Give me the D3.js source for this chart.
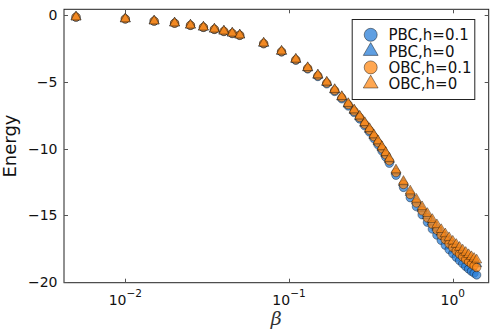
<!DOCTYPE html>
<html>
<head>
<meta charset="utf-8">
<script src="https://cdn.jsdelivr.net/npm/d3@7"></script>
<style>
  body { margin: 0; background: #fff; }
  text { font-family: "DejaVu Sans", sans-serif; }
</style>
</head>
<body>
<div id="chart"></div>
<script>
// beta grid
const betas = [0.005, 0.01, 0.015, 0.02, 0.025, 0.03, 0.035, 0.04, 0.045, 0.05,
    0.07, 0.09, 0.11, 0.13, 0.15, 0.17, 0.19, 0.21, 0.23, 0.25, 0.27, 0.29, 0.31, 0.33, 0.35, 0.37, 0.39, 0.41,
    0.45, 0.5, 0.55, 0.6, 0.65, 0.7, 0.75, 0.8, 0.85, 0.9, 0.95, 1.0, 1.05, 1.1, 1.15, 1.2, 1.25, 1.3, 1.35, 1.4]

const pbcH01 = [-0.15, -0.29, -0.45, -0.61, -0.77, -0.92, -1.07, -1.23, -1.38, -1.52,
    -2.15, -2.76, -3.38, -4.03, -4.60, -5.15, -5.72, -6.27, -6.81, -7.30, -7.78, -8.29, -8.76, -9.25, -9.72, -10.18, -10.64, -11.10,
    -12.00, -12.91, -13.68, -14.35, -14.96, -15.52, -16.03, -16.48, -16.88, -17.24, -17.57, -17.87, -18.14, -18.39, -18.62, -18.83, -19.02, -19.19, -19.33, -19.47]

const pbcH0 = [-0.14, -0.28, -0.44, -0.59, -0.75, -0.90, -1.05, -1.20, -1.35, -1.49,
    -2.11, -2.72, -3.32, -3.96, -4.51, -5.05, -5.61, -6.14, -6.67, -7.15, -7.62, -8.11, -8.57, -9.04, -9.50, -9.94, -10.39, -10.83,
    -11.70, -12.57, -13.30, -13.94, -14.51, -15.03, -15.49, -15.90, -16.27, -16.60, -16.90, -17.17, -17.42, -17.65, -17.85, -18.04, -18.21, -18.37, -18.50, -18.63]

const obcH01 = [-0.14, -0.28, -0.44, -0.60, -0.76, -0.91, -1.06, -1.21, -1.36, -1.50,
    -2.12, -2.73, -3.34, -3.98, -4.54, -5.08, -5.64, -6.18, -6.71, -7.20, -7.67, -8.17, -8.63, -9.11, -9.57, -10.02, -10.47, -10.92,
    -11.80, -12.69, -13.44, -14.08, -14.67, -15.20, -15.68, -16.11, -16.49, -16.83, -17.14, -17.42, -17.68, -17.91, -18.12, -18.31, -18.49, -18.65, -18.78, -18.91]

const obcH0 = [-0.14, -0.28, -0.44, -0.59, -0.75, -0.90, -1.05, -1.20, -1.35, -1.49,
    -2.10, -2.70, -3.30, -3.93, -4.48, -5.02, -5.57, -6.10, -6.62, -7.10, -7.56, -8.05, -8.50, -8.97, -9.42, -9.86, -10.30, -10.74,
    -11.60, -12.46, -13.18, -13.80, -14.36, -14.86, -15.31, -15.71, -16.07, -16.39, -16.68, -16.94, -17.18, -17.40, -17.60, -17.78, -17.95, -18.10, -18.23, -18.35]

const seriesNames = ["PBC,h=0.1", "PBC,h=0", "OBC,h=0.1", "OBC,h=0"]
const seriesValues = [pbcH01, pbcH0, obcH01, obcH0]
const seriesColors = ["#2a7fd8", "#2a7fd8", "#ff8a17", "#ff8a17"]
const seriesShapes = ["circle", "triangle", "circle", "triangle"]

const yTicks = [0, -5, -10, -15, -20]
const xTicks = [0.01, 0.1, 1]
const xTickExp = ["\u22122", "\u22121", "0"]

const W = 498, H = 332
const margin = { top: 9.3, right: 9.3, bottom: 49.3, left: 64 }
const width = W - margin.left - margin.right
const height = H - margin.top - margin.bottom

const svg = d3.select('#chart').append('svg')
    .attr('width', W)
    .attr('height', H)

// widen limits by 3% like the original
const lx = d3.extent(betas).map(Math.log10)
const padX = (lx[1] - lx[0]) * 0.03
const x = d3.scaleLog()
    .domain([Math.pow(10, lx[0] - padX), Math.pow(10, lx[1] + padX)])
    .range([margin.left, margin.left + width])

const allY = seriesValues.flat()
const ly = d3.extent(allY)
const padY = (ly[1] - ly[0]) * 0.03
const y = d3.scaleLinear()
    .domain([ly[0] - padY, ly[1] + padY])
    .range([margin.top + height, margin.top])

// frame
svg.append('rect')
    .attr('x', margin.left)
    .attr('y', margin.top)
    .attr('width', width)
    .attr('height', height)
    .attr('fill', 'none')
    .attr('stroke', '#222')
    .attr('stroke-width', 1)

// ticks on all four sides, pointing in
const tk = 4
const ticks = svg.append('g').attr('stroke', '#555').attr('stroke-width', 1)
xTicks.forEach(t => {
    const px = Math.round(x(t)) + 0.5
    ticks.append('line').attr('x1', px).attr('x2', px).attr('y1', margin.top + height).attr('y2', margin.top + height - tk)
    ticks.append('line').attr('x1', px).attr('x2', px).attr('y1', margin.top).attr('y2', margin.top + tk)
})
yTicks.forEach(t => {
    const py = Math.round(y(t)) + 0.5
    ticks.append('line').attr('x1', margin.left).attr('x2', margin.left + tk).attr('y1', py).attr('y2', py)
    ticks.append('line').attr('x1', margin.left + width).attr('x2', margin.left + width - tk).attr('y1', py).attr('y2', py)
})

// y tick labels
const fmt = d3.format('d')
svg.append('g').selectAll('text')
    .data(yTicks)
    .join('text')
    .attr('x', margin.left - 6.5)
    .attr('y', d => y(d))
    .attr('dy', '0.36em')
    .attr('text-anchor', 'end')
    .attr('font-size', 14)
    .attr('fill', '#111')
    .text(d => fmt(d))

// x tick labels, 10^k
xTicks.forEach((t, i) => {
    const lab = svg.append('text')
        .attr('x', x(t))
        .attr('y', 305)
        .attr('text-anchor', 'middle')
        .attr('font-size', 14)
        .attr('fill', '#111')
    lab.append('tspan').text('10')
    lab.append('tspan').attr('font-size', 10.5).attr('dy', -8).text(xTickExp[i])
})

// axis titles
svg.append('text')
    .attr('transform', `translate(16, ${margin.top + height / 2}) rotate(-90)`)
    .attr('text-anchor', 'middle')
    .attr('font-size', 18)
    .attr('fill', '#111')
    .text('Energy')

svg.append('text')
    .attr('x', margin.left + width / 2)
    .attr('y', 325)
    .attr('text-anchor', 'middle')
    .attr('font-style', 'italic')
    .attr('font-size', 19)
    .attr('fill', '#333')
    .style('font-family', '"DejaVu Serif", serif')
    .text('\u03b2')

// markers
const triPath = (s) => d3.symbol(d3.symbolTriangle, s)()
const plot = svg.append('g')
seriesValues.forEach((vals, si) => {
    const pts = betas.map((b, i) => ({ b: b, e: vals[i] }))
    const g = plot.append('g')
    if (seriesShapes[si] == 'circle') {
        g.selectAll('circle').data(pts).join('circle')
            .attr('cx', d => x(d.b))
            .attr('cy', d => y(d.e))
            .attr('r', 4.2)
            .attr('fill', seriesColors[si])
            .attr('fill-opacity', 0.75)
            .attr('stroke', '#000')
            .attr('stroke-opacity', 0.55)
            .attr('stroke-width', 0.7)
    } else {
        g.selectAll('path').data(pts).join('path')
            .attr('d', triPath(44))
            .attr('transform', d => `translate(${x(d.b)}, ${y(d.e)})`)
            .attr('fill', seriesColors[si])
            .attr('fill-opacity', 0.75)
            .attr('stroke', '#000')
            .attr('stroke-opacity', 0.55)
            .attr('stroke-width', 0.7)
    }
})

// legend
const legX = 351.7, legY = 19, legW = 122.6, legH = 80
const legend = svg.append('g')
legend.append('rect')
    .attr('x', legX + 0.5).attr('y', legY + 0.5)
    .attr('width', legW).attr('height', legH)
    .attr('fill', '#fff')
    .attr('stroke', '#222')
    .attr('stroke-width', 1)
seriesNames.forEach((name, i) => {
    const cy = 34.8 + i * 16.3
    if (seriesShapes[i] == 'circle') {
        legend.append('circle')
            .attr('cx', 370.7).attr('cy', cy).attr('r', 6.5)
            .attr('fill', seriesColors[i]).attr('fill-opacity', 0.75)
            .attr('stroke', '#000').attr('stroke-opacity', 0.55).attr('stroke-width', 0.8)
    } else {
        legend.append('path')
            .attr('d', triPath(95))
            .attr('transform', `translate(370.7, ${cy})`)
            .attr('fill', seriesColors[i]).attr('fill-opacity', 0.75)
            .attr('stroke', '#000').attr('stroke-opacity', 0.55).attr('stroke-width', 0.8)
    }
    legend.append('text')
        .attr('x', 388.5)
        .attr('y', cy)
        .attr('dy', '0.36em')
        .attr('font-size', 15)
        .attr('fill', '#111')
        .text(name)
})
</script>
</body>
</html>
